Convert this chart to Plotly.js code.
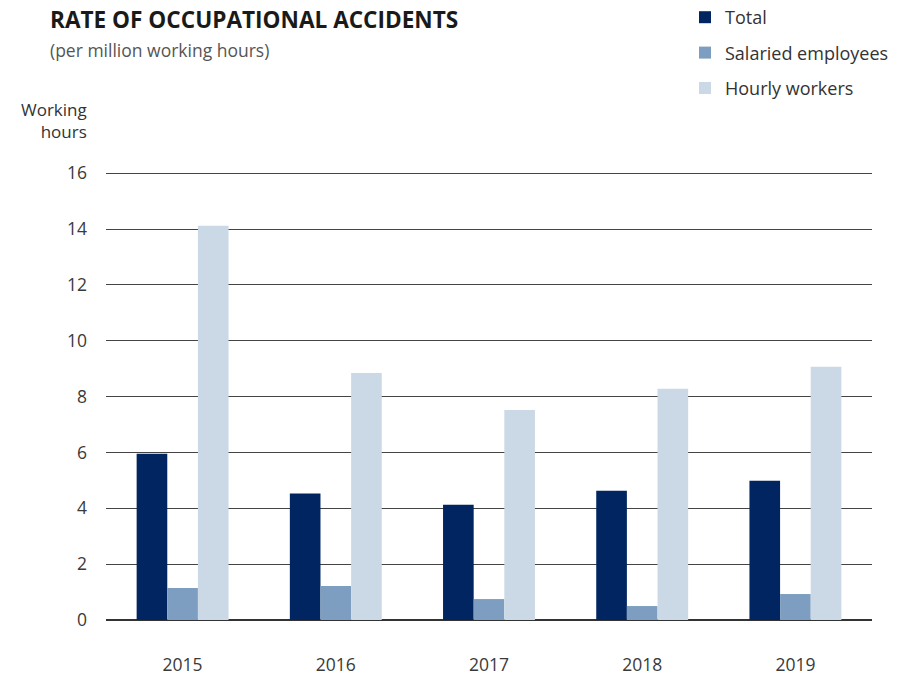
<!DOCTYPE html>
<html>
<head>
<meta charset="utf-8">
<script src="https://cdn.plot.ly/plotly-3.0.1.min.js"></script>
<style>html,body{margin:0;padding:0;background:#fff;}#chart{width:913px;height:674px;}</style>
</head>
<body>
<div id="chart"></div>
<script>
const years = ['2015', '2016', '2017', '2018', '2019'];
const totalRate = [5.95, 4.53, 4.13, 4.63, 4.99];
const salariedRate = [1.15, 1.22, 0.75, 0.50, 0.93];
const hourlyRate = [14.12, 8.85, 7.52, 8.28, 9.07];
const yTicks = [0, 2, 4, 6, 8, 10, 12, 14, 16];

const W = 913, H = 674;
const m = {l: 106, r: 41, t: 171, b: 54, autoexpand: false};
const pw = W - m.l - m.r, ph = H - m.t - m.b;
const px = x => (x - m.l) / pw;
const py = y => (H - m.b - y) / ph;

const font = 'Open Sans, Noto Sans, sans-serif';
const traces = [
  {name: 'Total', y: totalRate, color: '#002561'},
  {name: 'Salaried employees', y: salariedRate, color: '#7d9ec0'},
  {name: 'Hourly workers', y: hourlyRate, color: '#cbd9e6'}
].map((s, i) => ({
  type: 'bar', x: years, y: s.y, name: s.name, legendgroup: 'g' + i,
  marker: {color: s.color, line: {width: 0}}, hoverinfo: 'skip'
}));

const layout = {
  width: W, height: H, margin: m,
  paper_bgcolor: '#fff', plot_bgcolor: '#fff',
  font: {family: font, color: '#3a3a3a', size: 17.5},
  barmode: 'group', bargap: 0.4, bargroupgap: 0,
  showlegend: true,
  legend: {
    x: px(685), y: py(-1), xanchor: 'left', yanchor: 'top',
    font: {family: font, size: 18, color: '#333'},
    tracegroupgap: 9, bgcolor: 'rgba(0,0,0,0)'
  },
  title: {
    text: '<b>RATE OF OCCUPATIONAL ACCIDENTS</b>',
    xref: 'container', yref: 'container', x: 50 / W, xanchor: 'left',
    y: 1 - 20 / H, yanchor: 'middle',
    font: {family: font, size: 22.6, color: '#1a1a1a'}
  },
  xaxis: {
    type: 'category', showgrid: false, showline: false, ticks: '',
    tickfont: {size: 17.5, color: '#3a3a3a'}, ticklabelstandoff: 32
  },
  yaxis: {
    range: [0, 16.08], tickvals: yTicks, ticktext: yTicks.map(String),
    showgrid: true, gridcolor: '#444', gridwidth: 1,
    zeroline: true, zerolinecolor: '#333', zerolinewidth: 1.5,
    showline: false, ticks: '', ticklabelstandoff: 18,
    tickfont: {size: 17.5, color: '#3a3a3a'}
  },
  annotations: [
    {text: '(per million working hours)', xref: 'paper', yref: 'paper',
     x: px(48), y: py(50), xanchor: 'left', yanchor: 'middle', showarrow: false,
     font: {family: font, size: 17.5, color: '#555'}},
    {text: 'Working<br>hours', xref: 'paper', yref: 'paper', align: 'right',
     x: px(89), y: py(120), xanchor: 'right', yanchor: 'middle', showarrow: false,
     font: {family: font, size: 17, color: '#333'}}
  ]
};

Plotly.newPlot('chart', traces, layout, {displayModeBar: false, staticPlot: true});
</script>
</body>
</html>
